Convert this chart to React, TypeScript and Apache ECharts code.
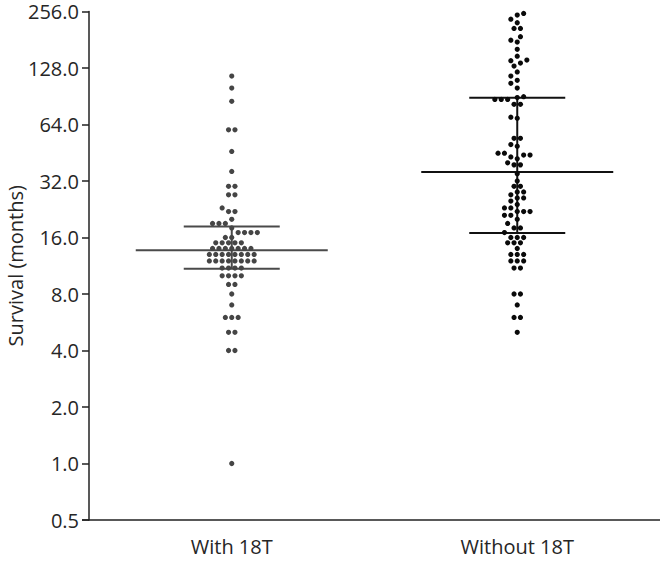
import React, { useEffect, useRef } from "react";
import * as echarts from "echarts";

const categories = ["With 18T", "Without 18T"];

const withValues = [
  116, 100, 85, 60, 60, 46, 36, 30, 30, 27, 27, 23, 22, 22, 20,
  19, 19, 19, 18, 17, 17, 17, 17, 16, 16, 15, 15, 15, 15, 15,
  14, 14, 14, 14, 14, 14, 14, 13, 13, 13, 13, 13, 13, 13, 13,
  12, 12, 12, 12, 12, 12, 12, 12, 11, 11, 11, 11, 10, 10, 10, 10,
  9, 9, 8, 7, 6, 6, 6, 5, 5, 4, 4, 1,
];

const withoutValues = [
  250, 245, 233, 223, 208, 208, 188, 180, 176, 161, 148, 141, 140, 136, 131,
  122, 116, 110, 106, 100, 90, 89, 87, 87, 87, 82, 82, 70, 69, 54, 54, 50, 49,
  45, 45, 44, 44, 43, 42, 40, 39, 39, 35, 32, 30, 30, 28, 28, 27, 26, 26, 25,
  24, 23, 23, 22, 22, 22, 21, 21, 20, 19, 18, 18, 17, 16, 16, 16, 15, 15, 15,
  14, 13, 13, 13, 12, 12, 12, 11, 11, 8, 8, 7, 6, 6, 5,
];

const medians = [13.7, 35.7];
const q1s = [10.9, 16.9];
const q3s = [18.3, 88.9];

const yMin = 0.5;
const yMax = 256;

const FONT = "Open Sans";
const TEXT = "#262626";

const GRID = { left: 89, right: 0, top: 11.5, bottom: 41 };
const HEIGHT = 561;

function swarmOffsets(values: number[], pxPerUnit: number): number[] {
  const spacing = 6.4;
  const minDist = 6.0;
  const counts = new Map<number, number>();
  values.forEach((v) => counts.set(v, (counts.get(v) || 0) + 1));
  const rows = Array.from(counts.entries()).sort((a, b) => a[0] - b[0]);
  const placed: { x: number; y: number }[] = [];
  const rowOffsets = new Map<number, number[]>();
  for (const [v, n] of rows) {
    const y = Math.log2(v) * pxPerUnit;
    const base = Array.from({ length: n }, (_, i) => (i - (n - 1) / 2) * spacing);
    let chosen: number[] = base;
    for (let k = 0; k < 60; k++) {
      const shift = k === 0 ? 0 : (k % 2 === 1 ? -1 : 1) * Math.ceil(k / 2) * (spacing / 2);
      const xs = base.map((b) => b + shift);
      const ok = xs.every((x) =>
        placed.every((p) => Math.hypot(p.x - x, p.y - y) >= minDist)
      );
      if (ok) {
        chosen = xs;
        break;
      }
    }
    chosen.forEach((x) => placed.push({ x, y }));
    rowOffsets.set(v, chosen.slice());
  }
  return values.map((v) => (rowOffsets.get(v) as number[]).shift() as number);
}

export default function App() {
  const ref = useRef<HTMLDivElement>(null);
  useEffect(() => {
    if (!ref.current) return;
    const chart = echarts.init(ref.current, null, { renderer: "svg" });
    const plotH = HEIGHT - GRID.top - GRID.bottom;
    const pxPerUnit = plotH / (Math.log2(yMax) - Math.log2(yMin));
    const groups = [withValues, withoutValues];
    const dotColors = ["#454545", "#0a0a0a"];
    const lineColors = ["#4a4a4a", "#111111"];

    const dotSeries = groups.map((vals, gi) => {
      const dx = swarmOffsets(vals, pxPerUnit);
      return {
        type: "custom",
        coordinateSystem: "cartesian2d",
        encode: { x: 0, y: 1 },
        z: 3,
        clip: false,
        data: vals.map((v, i) => [gi, Math.log2(v), dx[i]]),
        renderItem: (params: any, api: any) => {
          const p = api.coord([api.value(0), api.value(1)]);
          return {
            type: "circle",
            shape: { cx: p[0] + api.value(2), cy: p[1], r: 2.6 },
            style: { fill: dotColors[gi] },
          };
        },
      };
    });

    const summarySeries = {
      type: "custom",
      coordinateSystem: "cartesian2d",
      encode: { x: 0, y: [1, 2, 3] },
      z: 2,
      data: categories.map((_, i) => [
        i,
        Math.log2(q1s[i]),
        Math.log2(medians[i]),
        Math.log2(q3s[i]),
      ]),
      renderItem: (params: any, api: any) => {
        const lo = api.coord([api.value(0), api.value(1)]);
        const md = api.coord([api.value(0), api.value(2)]);
        const hi = api.coord([api.value(0), api.value(3)]);
        const x = md[0];
        const stroke = lineColors[params.dataIndex];
        const style = { stroke, lineWidth: 2, fill: null };
        return {
          type: "group",
          children: [
            { type: "line", shape: { x1: x, y1: lo[1], x2: x, y2: hi[1] }, style },
            { type: "line", shape: { x1: x - 96, y1: md[1], x2: x + 96, y2: md[1] }, style },
            { type: "line", shape: { x1: x - 48, y1: lo[1], x2: x + 48, y2: lo[1] }, style },
            { type: "line", shape: { x1: x - 48, y1: hi[1], x2: x + 48, y2: hi[1] }, style },
          ],
        };
      },
    };

    chart.setOption({
      animation: false,
      backgroundColor: "#ffffff",
      grid: { ...GRID, containLabel: false, outerBoundsMode: "none" },
      graphic: [
        {
          type: "line",
          shape: { x1: GRID.left - 7, y1: HEIGHT - GRID.bottom, x2: GRID.left, y2: HEIGHT - GRID.bottom },
          style: { stroke: "#222", lineWidth: 1.5 },
        },
      ],
      xAxis: {
        type: "category",
        data: categories,
        boundaryGap: true,
        axisLine: { onZero: false, lineStyle: { color: "#222", width: 1.5 } },
        axisTick: { alignWithLabel: true, length: 6, lineStyle: { color: "#222", width: 1.5 } },
        axisLabel: { fontSize: 20, fontFamily: FONT, color: TEXT, margin: 16 },
        splitLine: { show: false },
      },
      yAxis: {
        type: "value",
        min: Math.log2(yMin),
        max: Math.log2(yMax),
        interval: 1,
        axisLine: { show: true, onZero: false, lineStyle: { color: "#222", width: 1.5 } },
        axisTick: { show: true, length: 7, lineStyle: { color: "#222", width: 1.5 } },
        axisLabel: {
          fontSize: 20,
          fontFamily: FONT,
          color: TEXT,
          margin: 10,
          formatter: (v: number) => Math.pow(2, v).toFixed(1),
        },
        splitLine: { show: false },
        name: "Survival (months)",
        nameLocation: "middle",
        nameGap: 64,
        nameMoveOverlap: false,
        nameTextStyle: { fontSize: 20, fontFamily: FONT, color: TEXT },
      },
      series: [summarySeries, ...dotSeries],
    });
    return () => chart.dispose();
  }, []);
  return (
    <div
      ref={ref}
      style={{ position: "absolute", left: 0, top: 0, width: 660, height: 561 }}
    />
  );
}
